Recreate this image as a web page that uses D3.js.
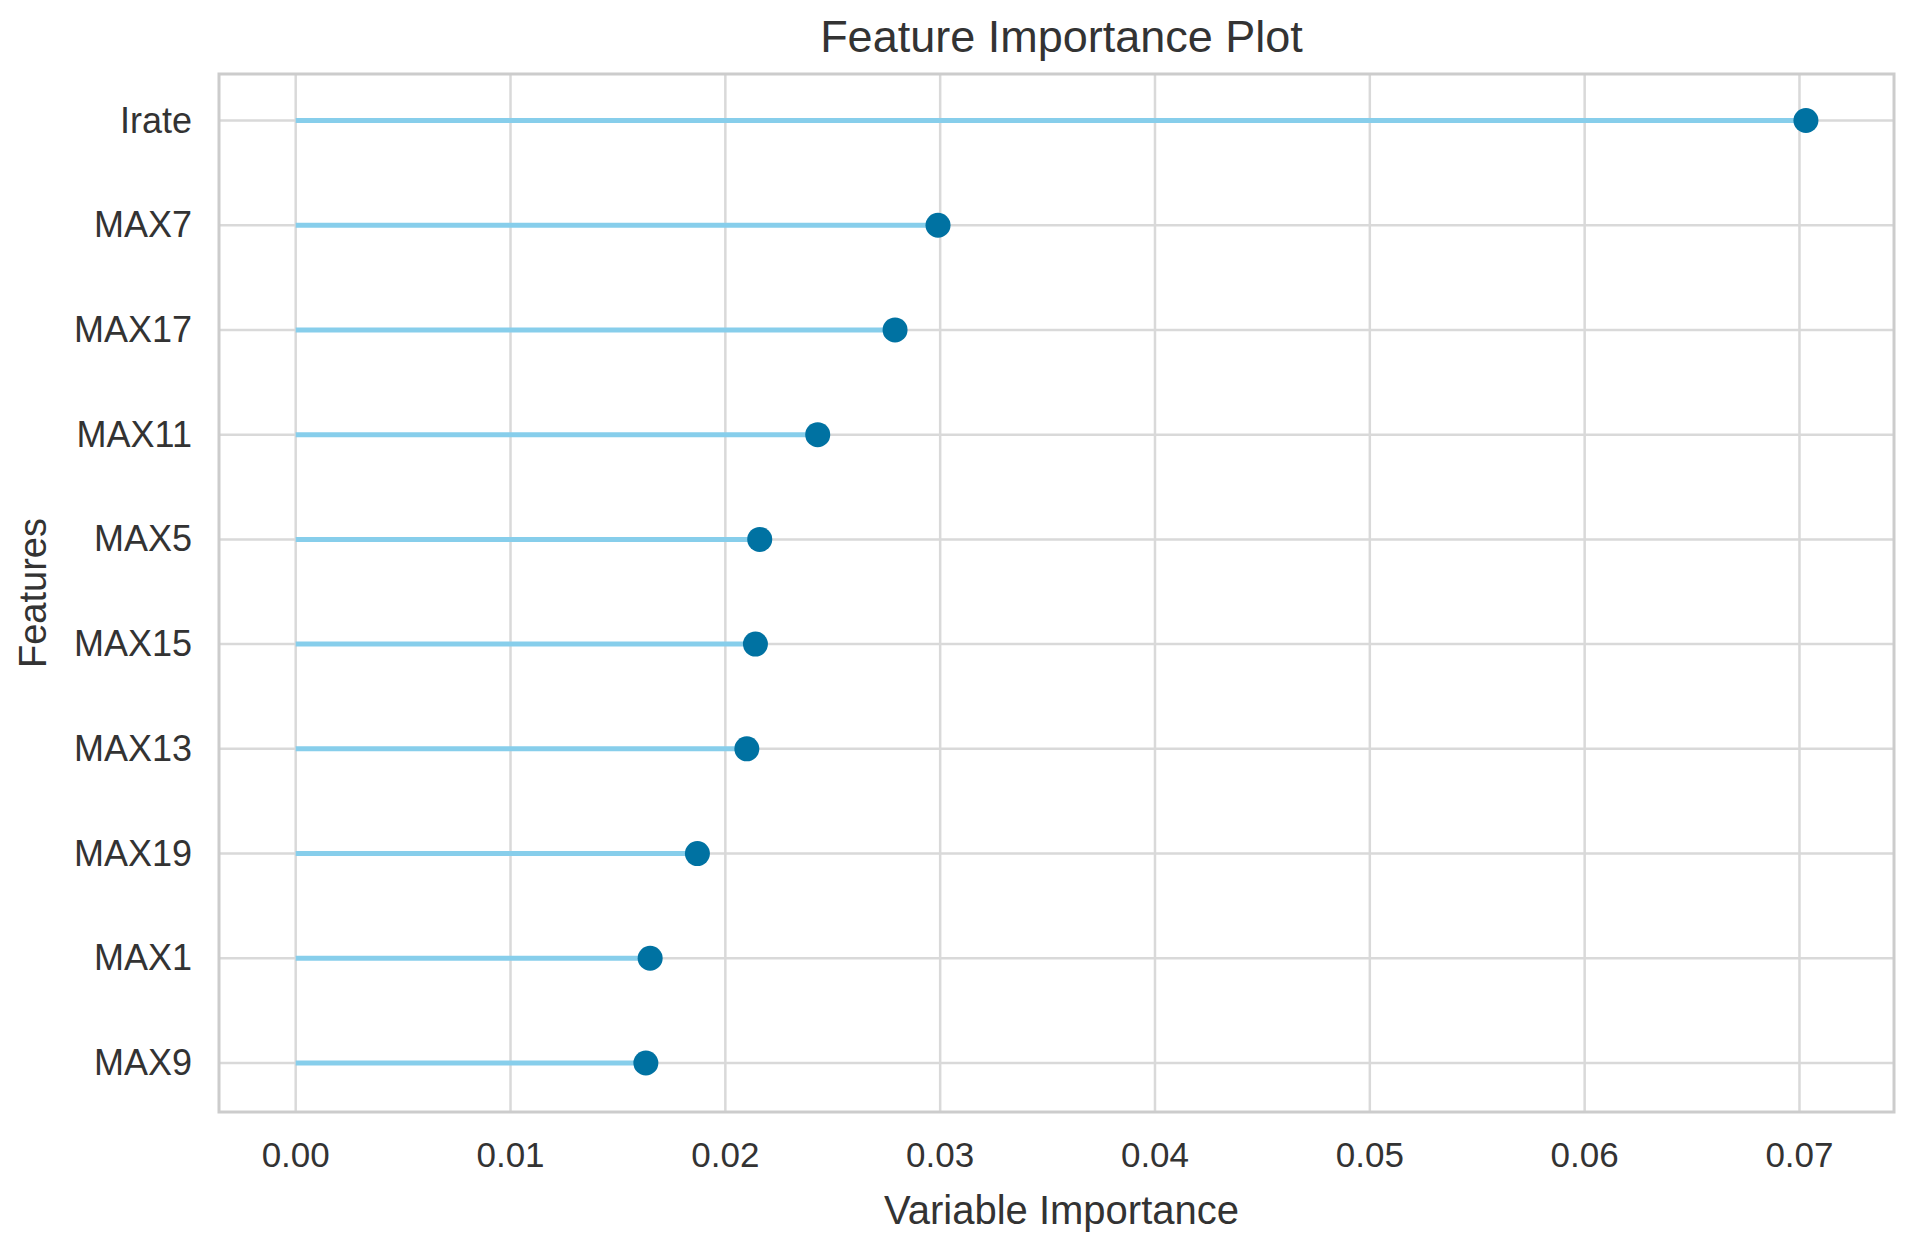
<!DOCTYPE html>
<html><head><meta charset="utf-8">
<script src="https://cdn.jsdelivr.net/npm/d3@7"></script>
<style>body{margin:0;background:#fff}text{font-family:"Liberation Sans",Arial,sans-serif;fill:#333}</style>
</head><body><svg id="c" width="1919" height="1254"></svg>
<script>
var features=["Irate","MAX7","MAX17","MAX11","MAX5","MAX15","MAX13","MAX19","MAX1","MAX9"];
var importance=[0.0703,0.0299,0.0279,0.0243,0.0216,0.0214,0.0210,0.0187,0.0165,0.0163];
var xTicks=[0,0.01,0.02,0.03,0.04,0.05,0.06,0.07];

var svg=d3.select("#c");
var frame={l:219,r:1894,t:74,b:1112};
var x=d3.scaleLinear().domain([-0.00357,0.0744]).range([frame.l,frame.r]);
var y=d3.scalePoint().domain(features).range([120.5,1063]);

// grid
svg.selectAll("line.gx").data(xTicks).enter().append("line").attr("class","gx")
 .attr("x1",d=>x(d)).attr("x2",d=>x(d)).attr("y1",frame.t).attr("y2",frame.b)
 .attr("stroke","#d9d9d9").attr("stroke-width",2.5);
svg.selectAll("line.gy").data(features).enter().append("line").attr("class","gy")
 .attr("x1",frame.l).attr("x2",frame.r).attr("y1",d=>y(d)).attr("y2",d=>y(d))
 .attr("stroke","#d9d9d9").attr("stroke-width",2.5);
svg.append("rect").attr("x",frame.l).attr("y",frame.t).attr("width",frame.r-frame.l).attr("height",frame.b-frame.t)
 .attr("fill","none").attr("stroke","#cccccc").attr("stroke-width",3);

// stems and dots
svg.selectAll("line.stem").data(features).enter().append("line").attr("class","stem")
 .attr("x1",x(0)).attr("x2",(d,i)=>x(importance[i])).attr("y1",d=>y(d)).attr("y2",d=>y(d))
 .attr("stroke","#87ceeb").attr("stroke-width",5);
svg.selectAll("circle").data(features).enter().append("circle")
 .attr("cx",(d,i)=>x(importance[i])).attr("cy",d=>y(d)).attr("r",12.5).attr("fill","#0072a2");

// axes labels
svg.selectAll("text.xt").data(xTicks).enter().append("text").attr("class","xt")
 .attr("x",d=>x(d)).attr("y",1167).attr("text-anchor","middle").attr("font-size",35).text(d=>d.toFixed(2));
svg.selectAll("text.yt").data(features).enter().append("text").attr("class","yt")
 .attr("x",192).attr("y",d=>y(d)+12).attr("text-anchor","end").attr("font-size",36).text(d=>d);
svg.append("text").attr("x",(frame.l+frame.r)/2+5).attr("y",1224).attr("text-anchor","middle").attr("font-size",40).text("Variable Importance");
svg.append("text").attr("transform","translate(46,"+((frame.t+frame.b)/2)+") rotate(-90)").attr("text-anchor","middle").attr("font-size",38).text("Features");
svg.append("text").attr("x",(frame.l+frame.r)/2+5).attr("y",52).attr("text-anchor","middle").attr("font-size",45).text("Feature Importance Plot");
</script></body></html>
